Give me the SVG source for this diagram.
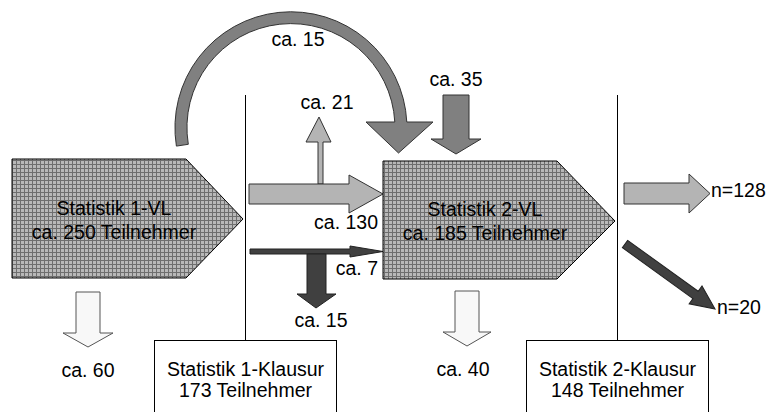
<svg xmlns="http://www.w3.org/2000/svg" width="767" height="412" viewBox="0 0 767 412">
<defs>
<pattern id="grid" width="4" height="4" patternUnits="userSpaceOnUse">
<rect width="4" height="4" fill="#b8b8b8"/>
<path d="M0 0.5H4M0.5 0V4" stroke="#6e6e6e" stroke-width="1" fill="none"/>
</pattern>
</defs>
<style>
text{font-family:"Liberation Sans",Arial,sans-serif;font-size:19.5px;fill:#000}
.c{text-anchor:middle}
.r{text-anchor:end}
.node{fill:url(#grid);stroke:#000;stroke-width:1}
.box{fill:#fff;stroke:#000;stroke-width:1}
.light{fill:#b4b4b4;stroke:#333;stroke-width:1}
.mid{fill:#808080;stroke:#333;stroke-width:1}
.dark{fill:#404040;stroke:#222;stroke-width:1}
.white{fill:#f8f8f8;stroke:#555;stroke-width:1}
.line{stroke:#000;stroke-width:1;fill:none}
</style>
<g id="lines">
<line class="line" x1="245.5" y1="95" x2="245.5" y2="340"/>
<line class="line" x1="617.5" y1="95" x2="617.5" y2="340"/>
</g>
<g id="connectors">
<path id="curve15" class="mid" d="M176.4 146.1 A116 116 0 1 1 406.8 122 L433 122 L398.5 153 L366 122 L394.8 122 A104 104 0 1 0 188.3 144.3 Z"/>
<path id="in35" class="mid" d="M443 95 H469 V139 H481 L456 154 L431 139 H443 Z"/>
<path id="up21" class="light" d="M318 184 V142 H306 L319 117 L331 142 H323 V184 Z"/>
<path id="a130" class="light" d="M249 184 H349 V175 L383 194 L349 213 V204 H249 Z"/>
<path id="a7" class="dark" d="M250 249 H350 V246 L383 251.5 L350 257 V254 H250 Z"/>
<path id="down15" class="dark" d="M307 254 H326 V294 H336 L316 308 L297 294 H307 Z"/>
<path id="out60" class="white" d="M76 292 H100 V333 H113 L88 347 L63 333 H76 Z"/>
<path id="out40" class="white" d="M455 291 H479 V332 H491 L467 346 L443 332 H455 Z"/>
<path id="out128" class="light" d="M624 183 H689 V174 L710 193.5 L689 213 V204 H624 Z"/>
<path id="out20" class="dark" transform="translate(625 244) rotate(35.8)" d="M0 -4.5 H87 V-11 L111 0 L87 11 V4.5 H0 Z"/>
</g>
<g id="node-vl1">
<path class="node" d="M12 159 H186 L243 219 L186 278 H12 Z"/>
<text class="c" x="114" y="215">Statistik 1-VL</text>
<text class="c" x="114" y="239">ca. 250 Teilnehmer</text>
</g>
<g id="node-vl2">
<path class="node" d="M383 161 H557 L615 221 L557 279 H383 Z"/>
<text class="c" x="485" y="216">Statistik 2-VL</text>
<text class="c" x="485" y="240">ca. 185 Teilnehmer</text>
</g>
<g id="node-k1">
<rect class="box" x="154.5" y="340.5" width="182" height="80"/>
<text class="c" x="245.5" y="376">Statistik 1-Klausur</text>
<text class="c" x="245.5" y="397">173 Teilnehmer</text>
</g>
<g id="node-k2">
<rect class="box" x="526.5" y="340.5" width="182" height="80"/>
<text class="c" x="617.5" y="376">Statistik 2-Klausur</text>
<text class="c" x="617.5" y="397">148 Teilnehmer</text>
</g>
<g id="labels">
<text class="c" x="298" y="46">ca. 15</text>
<text class="c" x="456" y="86">ca. 35</text>
<text class="c" x="327" y="109">ca. 21</text>
<text class="r" x="378" y="229">ca. 130</text>
<text class="r" x="378" y="275">ca. 7</text>
<text class="c" x="321" y="327">ca. 15</text>
<text class="c" x="88" y="377">ca. 60</text>
<text class="c" x="463" y="376">ca. 40</text>
<text x="711" y="197">n=128</text>
<text x="717" y="314">n=20</text>
</g>
</svg>
